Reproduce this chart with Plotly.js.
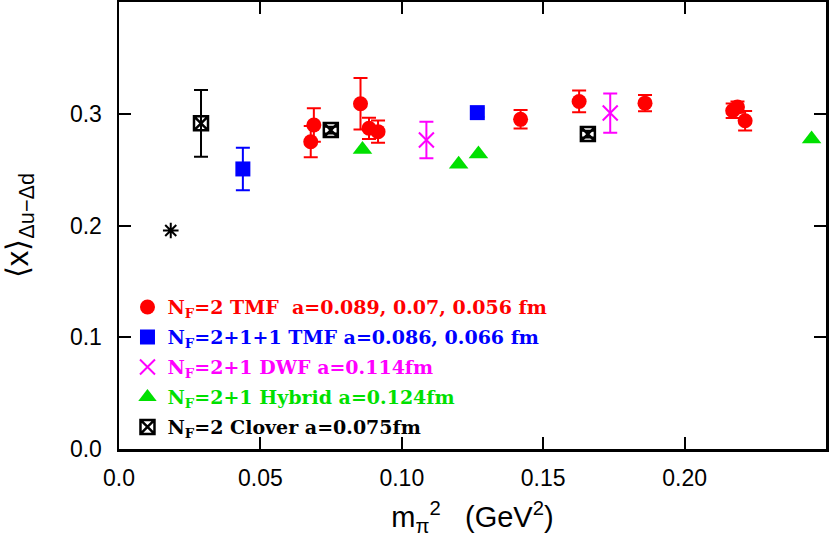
<!DOCTYPE html>
<html>
<head>
<meta charset="utf-8">
<script src="https://cdn.plot.ly/plotly-3.0.1.min.js"></script>
<style>html,body{margin:0;padding:0;background:#fff}#chart{width:830px;height:551px}</style>
</head>
<body>
<div id="chart"></div>
<script>
// N_F=2 TMF
const redX = [0.0678, 0.0689, 0.0854, 0.0884, 0.0916, 0.142, 0.1627, 0.186, 0.217, 0.2187, 0.2214];
const redY = [0.275, 0.290, 0.309, 0.287, 0.284, 0.295, 0.311, 0.3095, 0.3027, 0.306, 0.2937];
const redErr = [0.014, 0.015, 0.023, 0.0095, 0.010, 0.0083, 0.0097, 0.0073, 0.0065, 0.005, 0.0087];
// N_F=2+1+1 TMF
const blueX = [0.0438, 0.1267];
const blueY = [0.2506, 0.301];
const blueErr = [0.019, 0.004];
// N_F=2+1 DWF
const magX = [0.1087, 0.1737];
const magY = [0.2765, 0.3006];
const magErr = [0.0164, 0.0176];
// N_F=2+1 Hybrid
const greenX = [0.0861, 0.1201, 0.1271, 0.2449];
const greenY = [0.268, 0.2547, 0.264, 0.2774];
// N_F=2 Clover
const clovX = [0.029, 0.0749, 0.1658];
const clovY = [0.2914, 0.2854, 0.2818];
const clovErr = [0.0298, 0.003, 0.003];
// phenomenological value
const starX = [0.0183];
const starY = [0.1955];

const xTickVals = [0, 0.05, 0.10, 0.15, 0.20];
const xTickText = ["0.0", "0.05", "0.10", "0.15", "0.20"];
const yTickVals = [0, 0.1, 0.2, 0.3];
const yTickText = ["0.0", "0.1", "0.2", "0.3"];

const names = [
  '<span style="color:#ff0000">N<sub>F</sub>=2 TMF&nbsp;&nbsp;a=0.089, 0.07, 0.056 fm</span>',
  '<span style="color:#0000ff">N<sub>F</sub>=2+1+1 TMF a=0.086, 0.066 fm</span>',
  '<span style="color:#ff00ff">N<sub>F</sub>=2+1 DWF a=0.114fm</span>',
  '<span style="color:#00e000">N<sub>F</sub>=2+1 Hybrid a=0.124fm</span>',
  '<span style="color:#000000">N<sub>F</sub>=2 Clover a=0.075fm</span>'
];

function eb(arr, color) {
  return {type: 'data', array: arr, visible: true, color: color, thickness: 2, width: 7};
}

const traces = [
  {x: redX, y: redY, mode: 'markers', type: 'scatter', name: names[0], legendgroup: 'a',
   error_y: eb(redErr, '#ff0000'),
   marker: {symbol: 'circle', size: 15, color: '#ff0000'}},
  {x: blueX, y: blueY, mode: 'markers', type: 'scatter', name: names[1], legendgroup: 'b',
   error_y: eb(blueErr, '#0000ff'),
   marker: {symbol: 'square', size: 15, color: '#0000ff'}},
  {x: magX, y: magY, mode: 'markers', type: 'scatter', name: names[2], legendgroup: 'c',
   error_y: eb(magErr, '#ff00ff'),
   marker: {symbol: 'x-thin-open', size: 15, color: '#ff00ff', line: {color: '#ff00ff', width: 2}}},
  {x: greenX, y: greenY, mode: 'markers', type: 'scatter', name: names[3], legendgroup: 'd',
   marker: {symbol: 'triangle-up', size: 17, color: '#00e000'}},
  {x: clovX, y: clovY, mode: 'markers', type: 'scatter', name: names[4], legendgroup: 'e',
   error_y: eb(clovErr, '#000000'),
   marker: {symbol: 'square-x-open', size: 14, color: '#000000', line: {color: '#000000', width: 2.5}}},
  {x: starX, y: starY, mode: 'markers', type: 'scatter', showlegend: false,
   marker: {symbol: 'asterisk-open', size: 13, color: '#000000', line: {color: '#000000', width: 2}}}
];

const axisCommon = {
  showgrid: false, zeroline: false, showline: true, linecolor: '#000', linewidth: 2.5,
  mirror: 'allticks', ticks: 'inside', ticklen: 12, tickwidth: 2, tickcolor: '#000',
  tickfont: {family: 'Liberation Sans, Arial, sans-serif', size: 23, color: '#000'}
};

const layout = {
  width: 830, height: 551,
  margin: {l: 119, r: 4, t: 2, b: 102},
  paper_bgcolor: '#fff', plot_bgcolor: '#fff',
  showlegend: true,
  legend: {
    x: 0.012, y: 0.36, xanchor: 'left', yanchor: 'top',
    bgcolor: 'rgba(0,0,0,0)', borderwidth: 0,
    traceorder: 'grouped', tracegroupgap: 2.3,
    font: {family: 'DejaVu Serif, serif', size: 19, color: '#000', weight: 'bold'}
  },
  xaxis: Object.assign({}, axisCommon, {
    range: [0, 0.25], tickvals: xTickVals, ticktext: xTickText, ticklabelstandoff: 7,
    title: {text: 'm<sub>π</sub><sup>2</sup>&nbsp;&nbsp;&nbsp;(GeV<sup>2</sup>)', standoff: 17,
            font: {family: 'Liberation Sans, Arial, sans-serif', size: 29, color: '#000'}}
  }),
  yaxis: Object.assign({}, axisCommon, {
    range: [0, 0.4], tickvals: yTickVals, ticktext: yTickText, ticklabelstandoff: 10,
    title: {text: '⟨x⟩<sub>Δu−Δd</sub>', standoff: 34,
            font: {family: 'Liberation Sans, Arial, sans-serif', size: 31, color: '#000'}}
  })
};

Plotly.newPlot('chart', traces, layout, {displayModeBar: false, staticPlot: true});
</script>
</body>
</html>
